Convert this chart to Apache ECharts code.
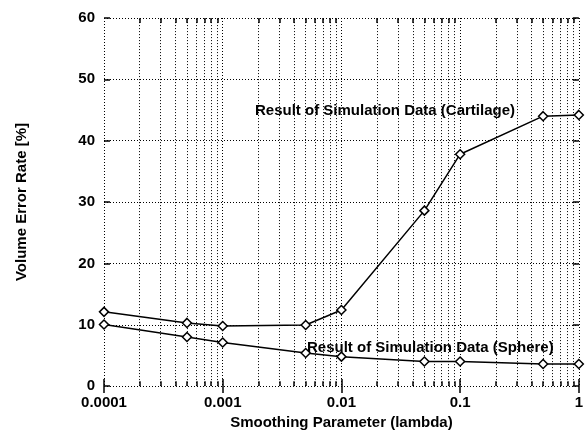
<!DOCTYPE html>
<html><head><meta charset="utf-8">
<script src="https://cdn.jsdelivr.net/npm/echarts@6/dist/echarts.min.js"></script>
<style>html,body{margin:0;padding:0;background:#fff}#c{width:586px;height:435px}</style>
</head><body><div id="c"></div>
<script>
const lambdas = [0.0001, 0.0005, 0.001, 0.005, 0.01, 0.05, 0.1, 0.5, 1];
const cartilage = [12.1, 10.3, 9.8, 9.95, 12.4, 28.6, 37.8, 44.0, 44.2];
const sphere = [10.05, 8.0, 7.1, 5.4, 4.8, 4.0, 4.0, 3.6, 3.6];
const xTickLabels = ['0.0001', '0.001', '0.01', '0.1', '1'];
const cartilageLabel = 'Result of Simulation Data (Cartilage)';
const sphereLabel = 'Result of Simulation Data (Sphere)';
const xTitle = 'Smoothing Parameter (lambda)';
const yTitle = 'Volume Error Rate [%]';

const FONT = 'Liberation Sans, Arial, Helvetica, sans-serif';
const decades = [0.0001, 0.001, 0.01, 0.1];
const minor = [];
decades.forEach(d => { for (let k = 2; k <= 9; k++) minor.push(+(d * k).toPrecision(3)); });

const dotted = { color: '#000', width: 1, type: [1, 2] };
const gridMinorLines = minor.map(v => [{ coord: [v, 0] }, { coord: [v, 60] }]);
const minorTicks = [];
minor.forEach(v => {
  minorTicks.push([{ coord: [v, 0] }, { coord: [v, 0.8] }]);
  minorTicks.push([{ coord: [v, 60] }, { coord: [v, 59.2] }]);
});

const chart = echarts.init(document.getElementById('c'));
const mk = (vals) => lambdas.map((x, i) => [x, vals[i]]);
const lbl = { color: '#000', fontFamily: FONT, fontSize: 15, fontWeight: 'bold' };
const tickStyle = { color: '#000', width: 1.5 };
chart.setOption({
  animation: false,
  grid: { left: 104, right: 2, top: 18, bottom: 46 },
  xAxis: [{
    type: 'log', logBase: 10, min: 0.0001, max: 1,
    axisLine: { show: false },
    axisTick: { show: true, inside: true, length: 7, lineStyle: tickStyle },
    splitLine: { show: true, lineStyle: dotted },
    axisLabel: Object.assign({ margin: 9,
      formatter: v => xTickLabels[Math.round(Math.log10(v)) + 4] }, lbl),
    name: xTitle, nameLocation: 'middle', nameGap: 27, nameTextStyle: lbl
  }, {
    type: 'log', logBase: 10, min: 0.0001, max: 1, position: 'top',
    axisLine: { show: false },
    axisTick: { show: true, inside: true, length: 7, lineStyle: tickStyle },
    splitLine: { show: false }, axisLabel: { show: false }
  }],
  yAxis: [{
    type: 'value', min: 0, max: 60, interval: 10,
    axisLine: { show: false },
    axisTick: { show: true, inside: true, length: 6, lineStyle: tickStyle },
    splitLine: { show: true, lineStyle: dotted },
    axisLabel: Object.assign({ margin: 9 }, lbl),
    name: yTitle, nameLocation: 'middle', nameGap: 75, nameRotate: 90, nameTextStyle: lbl
  }, {
    type: 'value', min: 0, max: 60, interval: 10, position: 'right',
    axisLine: { show: false },
    axisTick: { show: true, inside: true, length: 6, lineStyle: tickStyle },
    splitLine: { show: false }, axisLabel: { show: false }
  }],
  series: [{
    type: 'line', data: mk(cartilage), symbol: 'diamond', symbolSize: 9,
    lineStyle: { color: '#000', width: 1.5 },
    itemStyle: { color: '#fff', borderColor: '#000', borderWidth: 1.5 },
    z: 5,
    markLine: { silent: true, symbol: ['none', 'none'], label: { show: false },
      lineStyle: { color: '#000', width: 1.5, type: 'solid' }, animation: false, data: minorTicks }
  }, {
    type: 'line', data: mk(sphere), symbol: 'diamond', symbolSize: 9,
    lineStyle: { color: '#000', width: 1.5 },
    itemStyle: { color: '#fff', borderColor: '#000', borderWidth: 1.5 },
    z: 5,
    markLine: { silent: true, symbol: ['none', 'none'], label: { show: false },
      lineStyle: dotted, animation: false, data: gridMinorLines }
  }],
  graphic: [
    { type: 'text', left: 255, top: 103, z: 10,
      style: { text: cartilageLabel, fill: '#000', font: 'bold 15px ' + FONT } },
    { type: 'text', left: 307, top: 340, z: 10,
      style: { text: sphereLabel, fill: '#000', font: 'bold 15px ' + FONT } }
  ]
});
</script></body></html>
